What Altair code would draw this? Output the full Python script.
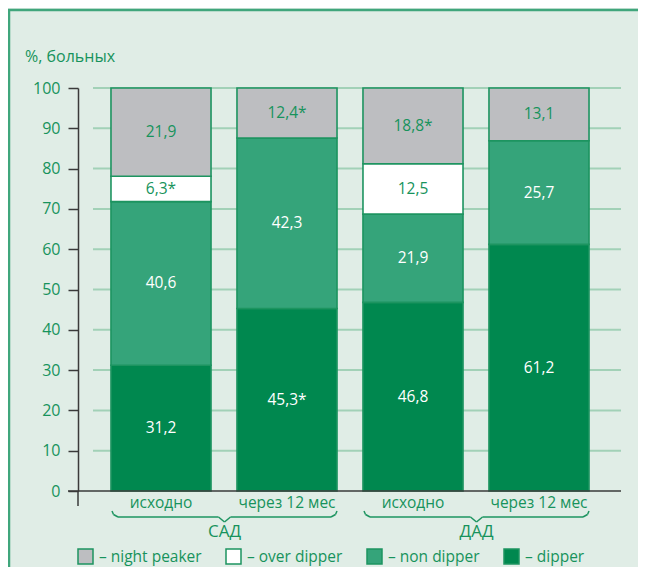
import altair as alt
import pandas as pd

# ---- data ----
groups = ["САД", "САД", "ДАД", "ДАД"]
periods = ["исходно", "через 12 мес", "исходно", "через 12 мес"]
types = ["night peaker", "over dipper", "non dipper", "dipper"]
dipper = [31.2, 45.3, 46.8, 61.2]
non_dipper = [40.6, 42.3, 21.9, 25.7]
over_dipper = [6.3, 0.0, 12.5, 0.0]
night_peaker = [21.9, 12.4, 18.8, 13.1]
dipper_lbl = ["31,2", "45,3*", "46,8", "61,2"]
non_dipper_lbl = ["40,6", "42,3", "21,9", "25,7"]
over_dipper_lbl = ["6,3*", "", "12,5", ""]
night_peaker_lbl = ["21,9", "12,4*", "18,8*", "13,1"]
y_ticks = [0, 10, 20, 30, 40, 50, 60, 70, 80, 90, 100]
y_title = "%, больных"

# ---- styling ----
FONT = "Open Sans"
BG = "#e0ede6"
GREEN_TXT = "#17935c"
STROKE = "#1d9460"
GRID = "#a2d1b7"
AXIS = "#3a3a3a"
COLORS = ["#bdbec1", "#ffffff", "#35a47a", "#00884f"]

W, H = 543, 403

keys = [f"{g}|{p}" for g, p in zip(groups, periods)]
rows = []
for i, k in enumerate(keys):
    lo = 0.0
    for t, vals, lbls in [("dipper", dipper, dipper_lbl),
                          ("non dipper", non_dipper, non_dipper_lbl),
                          ("over dipper", over_dipper, over_dipper_lbl),
                          ("night peaker", night_peaker, night_peaker_lbl)]:
        v = vals[i]
        if v > 0:
            rows.append({"key": k, "type": t, "lo": lo, "hi": lo + v,
                         "mid": lo + v / 2, "label": lbls[i]})
        lo += v
df = pd.DataFrame(rows)

xscale = alt.Scale(domain=keys, range=[20, 524], paddingInner=0.206, paddingOuter=0.103)
yscale = alt.Scale(domain=[0, 100], nice=False, zero=True)
yaxis = alt.Axis(values=y_ticks, grid=False, domainColor=AXIS, domainWidth=1.5,
                 tickColor=AXIS, tickWidth=1.5, tickSize=10, title=None,
                 labelColor=GREEN_TXT, labelFont=FONT, labelFontSize=16,
                 labelPadding=8)

base = alt.Chart(df)

grid = alt.Chart(pd.DataFrame({"v": y_ticks[1:]})).mark_rule(
    color=GRID, strokeWidth=2
).encode(
    y=alt.Y("v:Q", scale=yscale, axis=yaxis, title=None),
    x=alt.value(15), x2=alt.value(W),
)

bars = base.mark_bar(stroke=STROKE, strokeWidth=1.6).encode(
    x=alt.X("key:N", scale=xscale, sort=keys, title=None,
            axis=alt.Axis(labelExpr="split(datum.value, '|')[1]", domain=False,
                          ticks=False, labelAngle=0, labelColor=GREEN_TXT,
                          labelFont=FONT, labelFontSize=15.5, labelPadding=4)),
    y=alt.Y("lo:Q", scale=yscale, title=None, axis=yaxis),
    y2="hi:Q",
    color=alt.Color("type:N", scale=alt.Scale(domain=types, range=COLORS),
                    legend=alt.Legend(orient="none", legendX=-1, legendY=460,
                                      direction="horizontal", columns=4, title=None,
                                      symbolType="square", symbolSize=225,
                                      symbolStrokeColor=STROKE, symbolStrokeWidth=1.5,
                                      symbolOpacity=1,
                                      labelExpr="'– ' + datum.label",
                                      labelFont=FONT, labelFontSize=15.5,
                                      labelColor=GREEN_TXT, labelOffset=5,
                                      columnPadding=21, padding=0)),
)

texts = base.mark_text(font=FONT, fontSize=15.5).encode(
    x=alt.X("key:N", scale=xscale, sort=keys),
    y=alt.Y("mid:Q", scale=yscale),
    text="label:N",
    color=alt.condition("datum.type == 'dipper' || datum.type == 'non dipper'",
                        alt.value("white"), alt.value(GREEN_TXT)),
)

baseline = alt.Chart(pd.DataFrame({"v": [0]})).mark_rule(color=AXIS, strokeWidth=1.5).encode(
    y=alt.Y("v:Q", scale=yscale), x=alt.value(-10), x2=alt.value(W),
)

# decorative lines in pixel space: y-axis extension, braces, frame
def brace(x0, x1, yb):
    m = (x0 + x1) / 2
    pts = [(x0, yb + 20), (x0 + 1.5, yb + 23.5), (x0 + 6, yb + 26), (m - 6, yb + 26),
           (m, yb + 31), (m + 6, yb + 26), (x1 - 6, yb + 26), (x1 - 1.5, yb + 23.5), (x1, yb + 20)]
    return [(a[0], a[1], b[0], b[1]) for a, b in zip(pts[:-1], pts[1:])]

segs = brace(34, 259, H) + brace(286, 511, H)
seg_df = pd.DataFrame(segs, columns=["x", "y", "x2", "y2"])
decor = alt.Chart(seg_df).mark_rule(color=STROKE, strokeWidth=1.5).encode(
    x=alt.X("x:Q", scale=None), y=alt.Y("y:Q", scale=None),
    x2="x2:Q", y2="y2:Q",
)
axis_ext = alt.Chart(pd.DataFrame({"x": [0], "y": [H], "y2": [H + 15]})).mark_rule(
    color=AXIS, strokeWidth=1.5).encode(
    x=alt.X("x:Q", scale=None), y=alt.Y("y:Q", scale=None), y2="y2:Q")

frame = alt.Chart(pd.DataFrame({"x": [-70, -69], "y": [-78, -78], "x2": [580, -69], "y2": [-78, 490]})).mark_rule(
    color="#40a67c", strokeWidth=2.5).encode(
    x=alt.X("x:Q", scale=None), y=alt.Y("y:Q", scale=None), x2="x2:Q", y2="y2:Q")

group_lbl = alt.Chart(pd.DataFrame({"g": ["САД", "ДАД"], "x": [146.5, 398.5]})).mark_text(
    font=FONT, fontSize=17, color=GREEN_TXT, baseline="middle").encode(
    x=alt.X("x:Q", scale=None), y=alt.value(H + 41), text="g:N")

title = alt.Chart(pd.DataFrame({"t": [y_title]})).mark_text(
    font=FONT, fontSize=16, color=GREEN_TXT, align="left", baseline="middle").encode(
    x=alt.value(-53), y=alt.value(-31), text="t:N")

chart = alt.layer(grid, bars, texts, baseline, axis_ext, decor, frame, group_lbl, title).properties(
    width=W, height=H,
    autosize=alt.AutoSizeParams(type="none"),
    padding={"left": 70, "top": 80, "right": 17, "bottom": 76},
    background=BG,
).configure_view(stroke=None)

chart.save("out.html", embed_options={"renderer": "svg", "actions": False})
